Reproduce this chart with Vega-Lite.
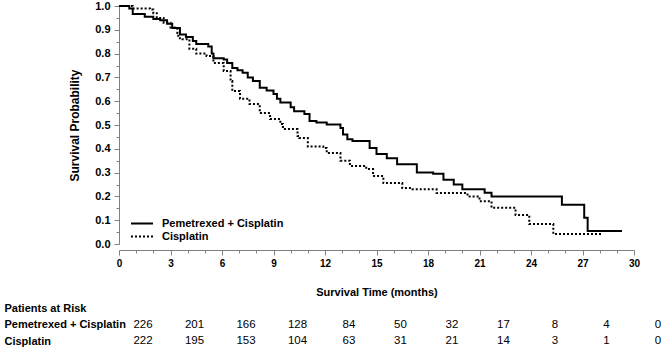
{
  "$schema": "https://vega.github.io/schema/vega-lite/v6.json",
  "padding": {"left": 4, "top": 0, "right": 5, "bottom": 5},
  "bounds": "flush",
  "spacing": 64,
  "config": {"font": "Liberation Sans", "view": {"stroke": null}},
  "datasets": {
    "km": [
      {"group": "Pemetrexed + Cisplatin", "time": 0, "surv": 1.0},
      {"group": "Pemetrexed + Cisplatin", "time": 0.6, "surv": 0.99},
      {"group": "Pemetrexed + Cisplatin", "time": 0.8, "surv": 0.966},
      {"group": "Pemetrexed + Cisplatin", "time": 1.5, "surv": 0.955},
      {"group": "Pemetrexed + Cisplatin", "time": 2.0, "surv": 0.945},
      {"group": "Pemetrexed + Cisplatin", "time": 2.4, "surv": 0.94},
      {"group": "Pemetrexed + Cisplatin", "time": 2.8, "surv": 0.925},
      {"group": "Pemetrexed + Cisplatin", "time": 3.1, "surv": 0.908},
      {"group": "Pemetrexed + Cisplatin", "time": 3.55, "surv": 0.88},
      {"group": "Pemetrexed + Cisplatin", "time": 3.9, "surv": 0.87},
      {"group": "Pemetrexed + Cisplatin", "time": 4.3, "surv": 0.853},
      {"group": "Pemetrexed + Cisplatin", "time": 4.5, "surv": 0.84},
      {"group": "Pemetrexed + Cisplatin", "time": 5.2, "surv": 0.83},
      {"group": "Pemetrexed + Cisplatin", "time": 5.4, "surv": 0.8},
      {"group": "Pemetrexed + Cisplatin", "time": 5.5, "surv": 0.78},
      {"group": "Pemetrexed + Cisplatin", "time": 6.1, "surv": 0.775},
      {"group": "Pemetrexed + Cisplatin", "time": 6.3, "surv": 0.76},
      {"group": "Pemetrexed + Cisplatin", "time": 6.6, "surv": 0.74},
      {"group": "Pemetrexed + Cisplatin", "time": 6.9, "surv": 0.73},
      {"group": "Pemetrexed + Cisplatin", "time": 7.2, "surv": 0.72},
      {"group": "Pemetrexed + Cisplatin", "time": 7.5, "surv": 0.7},
      {"group": "Pemetrexed + Cisplatin", "time": 7.8, "surv": 0.685},
      {"group": "Pemetrexed + Cisplatin", "time": 8.2, "surv": 0.656},
      {"group": "Pemetrexed + Cisplatin", "time": 8.6, "surv": 0.645},
      {"group": "Pemetrexed + Cisplatin", "time": 9.0, "surv": 0.63},
      {"group": "Pemetrexed + Cisplatin", "time": 9.2, "surv": 0.61},
      {"group": "Pemetrexed + Cisplatin", "time": 9.4, "surv": 0.595},
      {"group": "Pemetrexed + Cisplatin", "time": 10.0, "surv": 0.575},
      {"group": "Pemetrexed + Cisplatin", "time": 10.2, "surv": 0.558},
      {"group": "Pemetrexed + Cisplatin", "time": 10.8, "surv": 0.546},
      {"group": "Pemetrexed + Cisplatin", "time": 11.1, "surv": 0.517},
      {"group": "Pemetrexed + Cisplatin", "time": 11.5, "surv": 0.51},
      {"group": "Pemetrexed + Cisplatin", "time": 12.1, "surv": 0.502},
      {"group": "Pemetrexed + Cisplatin", "time": 12.9, "surv": 0.487},
      {"group": "Pemetrexed + Cisplatin", "time": 13.05, "surv": 0.46},
      {"group": "Pemetrexed + Cisplatin", "time": 13.3, "surv": 0.44},
      {"group": "Pemetrexed + Cisplatin", "time": 13.6, "surv": 0.433},
      {"group": "Pemetrexed + Cisplatin", "time": 14.6, "surv": 0.403},
      {"group": "Pemetrexed + Cisplatin", "time": 15.0, "surv": 0.378},
      {"group": "Pemetrexed + Cisplatin", "time": 15.6, "surv": 0.36},
      {"group": "Pemetrexed + Cisplatin", "time": 16.2, "surv": 0.335},
      {"group": "Pemetrexed + Cisplatin", "time": 17.35, "surv": 0.3},
      {"group": "Pemetrexed + Cisplatin", "time": 18.3, "surv": 0.295},
      {"group": "Pemetrexed + Cisplatin", "time": 18.9, "surv": 0.27},
      {"group": "Pemetrexed + Cisplatin", "time": 19.5, "surv": 0.25},
      {"group": "Pemetrexed + Cisplatin", "time": 20.0, "surv": 0.23},
      {"group": "Pemetrexed + Cisplatin", "time": 21.3, "surv": 0.215},
      {"group": "Pemetrexed + Cisplatin", "time": 21.7, "surv": 0.2},
      {"group": "Pemetrexed + Cisplatin", "time": 25.8, "surv": 0.165},
      {"group": "Pemetrexed + Cisplatin", "time": 27.1, "surv": 0.11},
      {"group": "Pemetrexed + Cisplatin", "time": 27.3, "surv": 0.055},
      {"group": "Pemetrexed + Cisplatin", "time": 29.3, "surv": 0.055},
      {"group": "Cisplatin", "time": 0, "surv": 1.0},
      {"group": "Cisplatin", "time": 0.8, "surv": 0.99},
      {"group": "Cisplatin", "time": 1.8, "surv": 0.985},
      {"group": "Cisplatin", "time": 2.0, "surv": 0.97},
      {"group": "Cisplatin", "time": 2.2, "surv": 0.95},
      {"group": "Cisplatin", "time": 2.6, "surv": 0.93},
      {"group": "Cisplatin", "time": 3.0, "surv": 0.91},
      {"group": "Cisplatin", "time": 3.4, "surv": 0.887},
      {"group": "Cisplatin", "time": 3.45, "surv": 0.865},
      {"group": "Cisplatin", "time": 3.7, "surv": 0.86},
      {"group": "Cisplatin", "time": 4.1, "surv": 0.82},
      {"group": "Cisplatin", "time": 4.5, "surv": 0.8},
      {"group": "Cisplatin", "time": 5.1, "surv": 0.79},
      {"group": "Cisplatin", "time": 5.5, "surv": 0.76},
      {"group": "Cisplatin", "time": 6.1, "surv": 0.727},
      {"group": "Cisplatin", "time": 6.5, "surv": 0.685},
      {"group": "Cisplatin", "time": 6.6, "surv": 0.643},
      {"group": "Cisplatin", "time": 7.05, "surv": 0.61},
      {"group": "Cisplatin", "time": 7.6, "surv": 0.588},
      {"group": "Cisplatin", "time": 8.2, "surv": 0.55},
      {"group": "Cisplatin", "time": 8.8, "surv": 0.525},
      {"group": "Cisplatin", "time": 9.4, "surv": 0.504},
      {"group": "Cisplatin", "time": 9.55, "surv": 0.483},
      {"group": "Cisplatin", "time": 10.4, "surv": 0.454},
      {"group": "Cisplatin", "time": 10.5, "surv": 0.445},
      {"group": "Cisplatin", "time": 11.0, "surv": 0.41},
      {"group": "Cisplatin", "time": 11.9, "surv": 0.403},
      {"group": "Cisplatin", "time": 12.1, "surv": 0.382},
      {"group": "Cisplatin", "time": 12.9, "surv": 0.35},
      {"group": "Cisplatin", "time": 13.45, "surv": 0.328},
      {"group": "Cisplatin", "time": 14.4, "surv": 0.315},
      {"group": "Cisplatin", "time": 14.8, "surv": 0.286},
      {"group": "Cisplatin", "time": 15.4, "surv": 0.256},
      {"group": "Cisplatin", "time": 16.5, "surv": 0.235},
      {"group": "Cisplatin", "time": 17.1, "surv": 0.23},
      {"group": "Cisplatin", "time": 18.5, "surv": 0.214},
      {"group": "Cisplatin", "time": 20.3, "surv": 0.2},
      {"group": "Cisplatin", "time": 21.0, "surv": 0.18},
      {"group": "Cisplatin", "time": 21.7, "surv": 0.152},
      {"group": "Cisplatin", "time": 23.1, "surv": 0.122},
      {"group": "Cisplatin", "time": 23.9, "surv": 0.084},
      {"group": "Cisplatin", "time": 25.3, "surv": 0.042},
      {"group": "Cisplatin", "time": 28.1, "surv": 0.042}
    ],
    "risk": [
      {"group": "Pemetrexed + Cisplatin", "time": 0, "n": 226},
      {"group": "Pemetrexed + Cisplatin", "time": 3, "n": 201},
      {"group": "Pemetrexed + Cisplatin", "time": 6, "n": 166},
      {"group": "Pemetrexed + Cisplatin", "time": 9, "n": 128},
      {"group": "Pemetrexed + Cisplatin", "time": 12, "n": 84},
      {"group": "Pemetrexed + Cisplatin", "time": 15, "n": 50},
      {"group": "Pemetrexed + Cisplatin", "time": 18, "n": 32},
      {"group": "Pemetrexed + Cisplatin", "time": 21, "n": 17},
      {"group": "Pemetrexed + Cisplatin", "time": 24, "n": 8},
      {"group": "Pemetrexed + Cisplatin", "time": 27, "n": 4},
      {"group": "Pemetrexed + Cisplatin", "time": 30, "n": 0},
      {"group": "Cisplatin", "time": 0, "n": 222},
      {"group": "Cisplatin", "time": 3, "n": 195},
      {"group": "Cisplatin", "time": 6, "n": 153},
      {"group": "Cisplatin", "time": 9, "n": 104},
      {"group": "Cisplatin", "time": 12, "n": 63},
      {"group": "Cisplatin", "time": 15, "n": 31},
      {"group": "Cisplatin", "time": 18, "n": 21},
      {"group": "Cisplatin", "time": 21, "n": 14},
      {"group": "Cisplatin", "time": 24, "n": 3},
      {"group": "Cisplatin", "time": 27, "n": 1},
      {"group": "Cisplatin", "time": 30, "n": 0}
    ]
  },
  "vconcat": [
    {
      "width": 515,
      "height": 238,
      "data": {"name": "km"},
      "mark": {"type": "line", "interpolate": "step-after", "strokeWidth": 2, "color": "black", "strokeCap": "butt"},
      "encoding": {
        "x": {
          "field": "time", "type": "quantitative",
          "scale": {"domain": [0, 30], "nice": false},
          "axis": {
            "title": "Survival Time (months)",
            "values": [0,1,2,3,4,5,6,7,8,9,10,11,12,13,14,15,16,17,18,19,20,21,22,23,24,25,26,27,28,29,30],
            "labelExpr": "datum.value % 3 === 0 ? datum.label : ''",
            "tickSize": {"condition": {"test": "datum.value % 3 === 0", "value": 5}, "value": 3},
            "offset": 6, "grid": false,
            "labelFontSize": 10, "labelFontWeight": "bold", "labelColor": "black",
            "labelPadding": 3, "labelFlush": false, "labelOverlap": false,
            "titleFontSize": 11, "titleFontWeight": "bold", "titleColor": "black", "titlePadding": 18,
            "domainColor": "#808080", "tickColor": "#808080"
          }
        },
        "y": {
          "field": "surv", "type": "quantitative",
          "scale": {"domain": [0, 1], "nice": false},
          "axis": {
            "title": "Survival Probability",
            "values": [0,0.05,0.1,0.15,0.2,0.25,0.3,0.35,0.4,0.45,0.5,0.55,0.6,0.65,0.7,0.75,0.8,0.85,0.9,0.95,1],
            "labelExpr": "round(datum.value*100) % 10 === 0 ? format(datum.value, '.1f') : ''",
            "tickSize": {"condition": {"test": "round(datum.value*100) % 10 === 0", "value": 5}, "value": 3},
            "grid": false,
            "labelFontSize": 11, "labelFontWeight": "bold", "labelColor": "black",
            "labelPadding": 4, "labelOverlap": false, "labelFlush": false,
            "titleFontSize": 12, "titleFontWeight": "bold", "titleColor": "black", "titlePadding": 13,
            "domainColor": "#808080", "tickColor": "#808080"
          }
        },
        "strokeDash": {
          "field": "group", "type": "nominal",
          "scale": {"domain": ["Pemetrexed + Cisplatin", "Cisplatin"], "range": [[1, 0], [2, 2]]},
          "legend": {
            "orient": "none", "legendX": 16.5, "legendY": 211, "title": null,
            "symbolType": "M-2,0L2,0", "symbolSize": 121, "symbolStrokeColor": "black", "symbolStrokeWidth": 2,
            "symbolFillColor": "transparent",
            "labelFontSize": 11, "labelFontWeight": "bold", "labelColor": "black",
            "labelOffset": 13.5, "rowPadding": 1, "padding": 0
          }
        }
      }
    },
    {
      "width": 515,
      "height": 33,
      "data": {"name": "risk"},
      "mark": {"type": "text", "dx": 24, "fontSize": 11.5, "color": "black"},
      "encoding": {
        "x": {"field": "time", "type": "quantitative", "scale": {"domain": [0, 30], "nice": false}, "axis": null},
        "y": {
          "field": "group", "type": "nominal",
          "scale": {"type": "point", "domain": ["Patients at Risk", "Pemetrexed + Cisplatin", "Cisplatin"], "padding": 0},
          "axis": {
            "title": null, "domain": false, "ticks": false, "tickSize": 0,
            "labelAlign": "left", "labelBaseline": "middle", "labelPadding": 115,
            "labelFontSize": 11, "labelFontWeight": "bold", "labelColor": "black", "grid": false
          }
        },
        "text": {"field": "n", "type": "quantitative"}
      }
    }
  ]
}
